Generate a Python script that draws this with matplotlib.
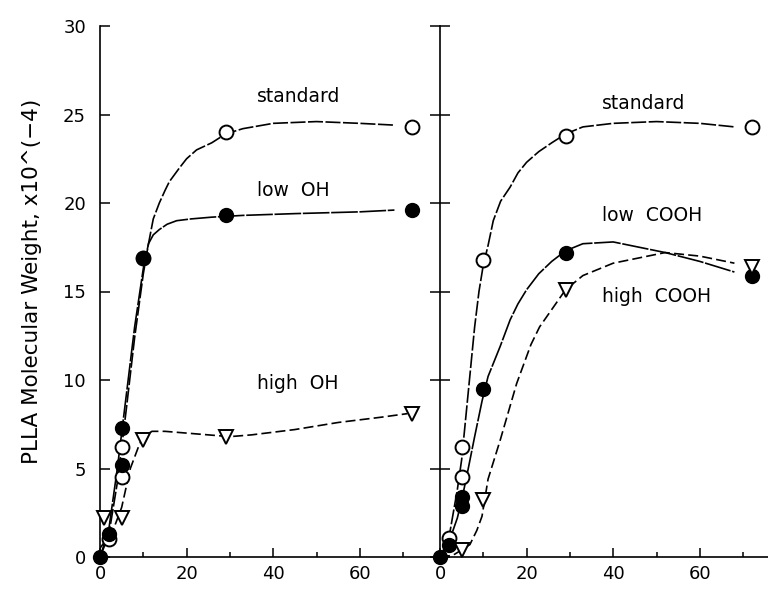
import numpy as np
import matplotlib.pyplot as plt
from matplotlib.ticker import MultipleLocator

plt.rcParams.update({'font.family': 'DejaVu Sans', 'font.size': 13})

# ---- markers, left panel (hydroxyl series)
std_l_x = [2, 5, 5, 10, 29, 72]
std_l_y = [1.0, 4.5, 6.2, 16.9, 24.0, 24.3]
low_oh_x = [0, 2, 5, 5, 10, 29, 72]
low_oh_y = [0, 1.3, 5.2, 7.3, 16.9, 19.3, 19.6]
high_oh_x = [1, 5, 10, 29, 72]
high_oh_y = [2.2, 2.2, 6.6, 6.8, 8.1]

# ---- markers, right panel (carboxyl series)
std_r_x = [2, 5, 5, 10, 29, 72]
std_r_y = [1.1, 4.5, 6.2, 16.8, 23.8, 24.3]
low_cooh_x = [0, 2, 5, 5, 10, 29, 72]
low_cooh_y = [0, 0.7, 2.9, 3.4, 9.5, 17.2, 15.9]
high_cooh_x = [5, 10, 29, 72]
high_cooh_y = [0.4, 3.2, 15.1, 16.4]

# ---- fitted curves
fit_std_l_x = [0, 2, 4, 6, 8, 10, 11.2, 12.3, 13.7, 15, 16, 17.2, 18.4, 20, 22.3, 25.8, 29, 33, 40, 50, 60, 68]
fit_std_l_y = [0, 1.2, 4.2, 8.2, 12.4, 16.0, 17.7, 19.1, 20.0, 20.7, 21.2, 21.6, 22.0, 22.5, 23.0, 23.4, 23.9, 24.2, 24.5, 24.6, 24.5, 24.4]
fit_low_oh_x = [0, 2, 4, 6, 8, 10, 11.2, 12.3, 13.7, 15.5, 17.7, 21, 25.8, 33, 45, 60, 68]
fit_low_oh_y = [0, 1.5, 5.0, 9.0, 13.0, 16.3, 17.7, 18.2, 18.5, 18.8, 19.0, 19.1, 19.2, 19.3, 19.4, 19.5, 19.6]
fit_high_oh_x = [0, 3, 5, 7, 9, 10, 12, 15, 20, 25, 30, 35, 45, 55, 65, 71]
fit_high_oh_y = [0.5, 1.5, 2.8, 5.0, 6.3, 6.8, 7.1, 7.1, 7.0, 6.9, 6.8, 6.9, 7.2, 7.6, 7.9, 8.1]

fit_std_r_x = [0, 2, 4, 5, 6, 7, 8, 9, 10, 11.1, 12.3, 14, 16.2, 18, 20, 22.8, 25.8, 29, 33, 40, 50, 60, 68]
fit_std_r_y = [0, 1.0, 3.8, 5.5, 8.0, 10.5, 13.0, 15.0, 16.5, 17.6, 19.0, 20.1, 20.9, 21.7, 22.3, 22.9, 23.4, 23.9, 24.3, 24.5, 24.6, 24.5, 24.3]
fit_low_cooh_x = [0, 2, 4, 5, 6.2, 8, 9.7, 11.1, 13.9, 16.2, 18, 20, 22.8, 25.8, 29, 33, 40, 52, 60, 68]
fit_low_cooh_y = [0, 0.8, 2.2, 3.2, 4.6, 6.8, 8.8, 10.2, 11.9, 13.4, 14.3, 15.1, 16.0, 16.7, 17.3, 17.7, 17.8, 17.2, 16.7, 16.1]
fit_high_cooh_x = [0, 3, 5, 6.9, 8.5, 9.7, 11.1, 13.9, 17.7, 21, 23, 27, 29, 33, 40, 52, 60, 68]
fit_high_cooh_y = [0, 0.1, 0.4, 0.7, 1.5, 2.3, 4.4, 6.6, 9.8, 12.0, 13.0, 14.4, 15.1, 15.9, 16.6, 17.2, 17.0, 16.6]

W, H = 768, 590
fig = plt.figure(figsize=(W / 100, H / 100), dpi=100)
ax1 = fig.add_axes([100 / W, 33 / H, 340 / W, 531 / H])
ax2 = fig.add_axes([440 / W, 33 / H, 328 / W, 531 / H])

dash_std = (0, (9, 1.5))
dash_low = (0, (16, 1))
dash_high = (0, (6, 2.5))

mk = dict(markersize=10, linestyle='none', clip_on=False, zorder=5)
open_c = dict(marker='o', markerfacecolor='white', markeredgecolor='black', markeredgewidth=1.4)
fill_c = dict(marker='o', markerfacecolor='black', markeredgecolor='black')
tri = dict(marker='v', markerfacecolor='white', markeredgecolor='black', markeredgewidth=1.4)
lbl = dict(fontsize=13.5, va='center')

# left panel
ax1.plot(fit_std_l_x, fit_std_l_y, color='black', lw=1.2, linestyle=dash_std)
ax1.plot(fit_low_oh_x, fit_low_oh_y, color='black', lw=1.2, linestyle=dash_low)
ax1.plot(fit_high_oh_x, fit_high_oh_y, color='black', lw=1.2, linestyle=dash_high)
ax1.plot(std_l_x, std_l_y, **open_c, **mk)
ax1.plot(low_oh_x, low_oh_y, **fill_c, **mk)
ax1.plot(high_oh_x, high_oh_y, **tri, **mk)
ax1.text(36.3, 26.0, 'standard', **lbl)
ax1.text(36.3, 20.7, 'low  OH', **lbl)
ax1.text(36.3, 9.8, 'high  OH', **lbl)

# right panel
ax2.plot(fit_std_r_x, fit_std_r_y, color='black', lw=1.2, linestyle=dash_std)
ax2.plot(fit_low_cooh_x, fit_low_cooh_y, color='black', lw=1.2, linestyle=dash_low)
ax2.plot(fit_high_cooh_x, fit_high_cooh_y, color='black', lw=1.2, linestyle=dash_high)
ax2.plot(std_r_x, std_r_y, **open_c, **mk)
ax2.plot(low_cooh_x, low_cooh_y, **fill_c, **mk)
ax2.plot(high_cooh_x, high_cooh_y, **tri, **mk)
ax2.text(37.4, 25.6, 'standard', **lbl)
ax2.text(37.4, 19.3, 'low  COOH', **lbl)
ax2.text(37.4, 14.7, 'high  COOH', **lbl)

for ax, xmax in ((ax1, 340 / 4.33), (ax2, 328 / 4.33)):
    ax.set_xlim(0, xmax)
    ax.set_ylim(0, 30)
    ax.spines['top'].set_visible(False)
    ax.spines['right'].set_visible(False)
    for s in ('left', 'bottom'):
        ax.spines[s].set_linewidth(1.2)
    ax.xaxis.set_major_locator(MultipleLocator(20))
    ax.xaxis.set_minor_locator(MultipleLocator(10))
    ax.yaxis.set_major_locator(MultipleLocator(5))
    ax.tick_params(axis='x', which='major', direction='in', length=6.5, width=1.1, pad=6, labelsize=13)
    ax.tick_params(axis='x', which='minor', direction='in', length=3.5, width=1.1)

ax1.tick_params(axis='y', direction='in', length=7, width=1.1, pad=10, labelsize=13)
ax2.tick_params(axis='y', direction='inout', length=14, width=1.1, labelleft=False)

ax1.set_ylabel('PLLA Molecular Weight, x10^(\u22124)', fontsize=15.5)
ax1.yaxis.set_label_coords(-0.17, 0.52)

fig.savefig('out.png', dpi=100)
